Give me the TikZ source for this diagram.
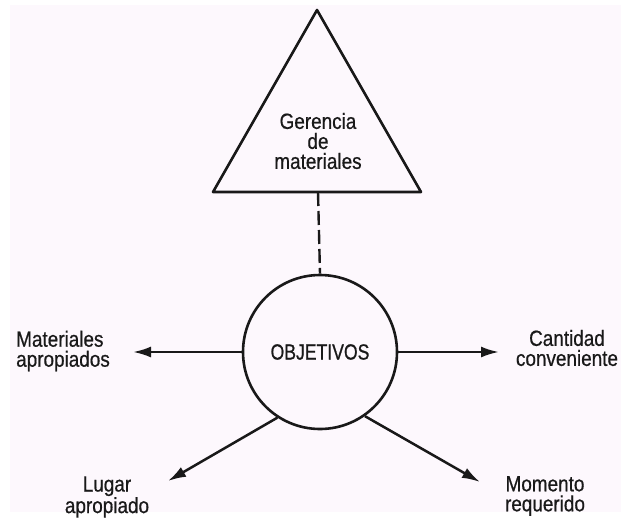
\documentclass[tikz,border=0pt]{standalone}
\usepackage{fontspec}
\setmainfont{Liberation Sans}[FakeStretch=0.86, FakeBold=0.6]
\newfontfamily\objfont{Liberation Sans}[FakeStretch=0.80, FakeBold=0.8]
\usetikzlibrary{arrows.meta}
\definecolor{paper}{RGB}{253,248,253}
\definecolor{ink}{RGB}{25,25,25}
\tikzset{
  label text/.style={font=\fontsize{22}{20}\selectfont, text=ink, align=center, inner sep=0pt},
  outline/.style={draw=ink, line width=2.6pt, line join=round},
  goal arrow/.style={draw=ink, line width=2.5pt, -{Latex[length=18pt,width=11pt]}},
  link/.style={draw=ink, line width=2.4pt, dash pattern=on 14pt off 5pt}
}
\begin{document}
\begin{tikzpicture}[x=1pt, y=-1pt]
  % page and paper
  \useasboundingbox (0,0) rectangle (621,517);
  \fill[white] (0,0) rectangle (621,517);
  \fill[paper] (10,5) rectangle (621,512);

  % management triangle
  \coordinate (apex) at (317,10);
  \coordinate (baseL) at (213,192);
  \coordinate (baseR) at (421,192);
  \coordinate (baseM) at (318,192);
  \draw[outline] (apex) -- (baseL) -- (baseR) -- cycle;
  \node[label text] (mgmt) at (318,141) {Gerencia\\de\\materiales};

  % objectives circle
  \node[circle, outline, minimum size=154pt, inner sep=0pt,
        font=\objfont\fontsize{22}{20}\selectfont, text=ink] (obj) at (320,352) {OBJETIVOS};

  \draw[link] (baseM) -- (obj.north);

  % arrow tips
  \coordinate (tipW) at (133,352);
  \coordinate (tipE) at (499,352);
  \coordinate (tipSW) at (168,481);
  \coordinate (tipSE) at (480,482);

  \draw[goal arrow] (obj.west) -- (tipW);
  \draw[goal arrow] (obj.east) -- (tipE);
  \draw[goal arrow] (obj.237) -- (tipSW);
  \draw[goal arrow] (obj.305) -- (tipSE);

  % objective labels
  \node[label text, align=left, anchor=west] (matl) at (16,351) {Materiales\\apropiados};
  \node[label text] (qty) at (567,348) {Cantidad\\conveniente};
  \node[label text] (place) at (107,497) {Lugar\\apropiado};
  \node[label text] (time) at (545,496) {Momento\\requerido};
\end{tikzpicture}
\end{document}
